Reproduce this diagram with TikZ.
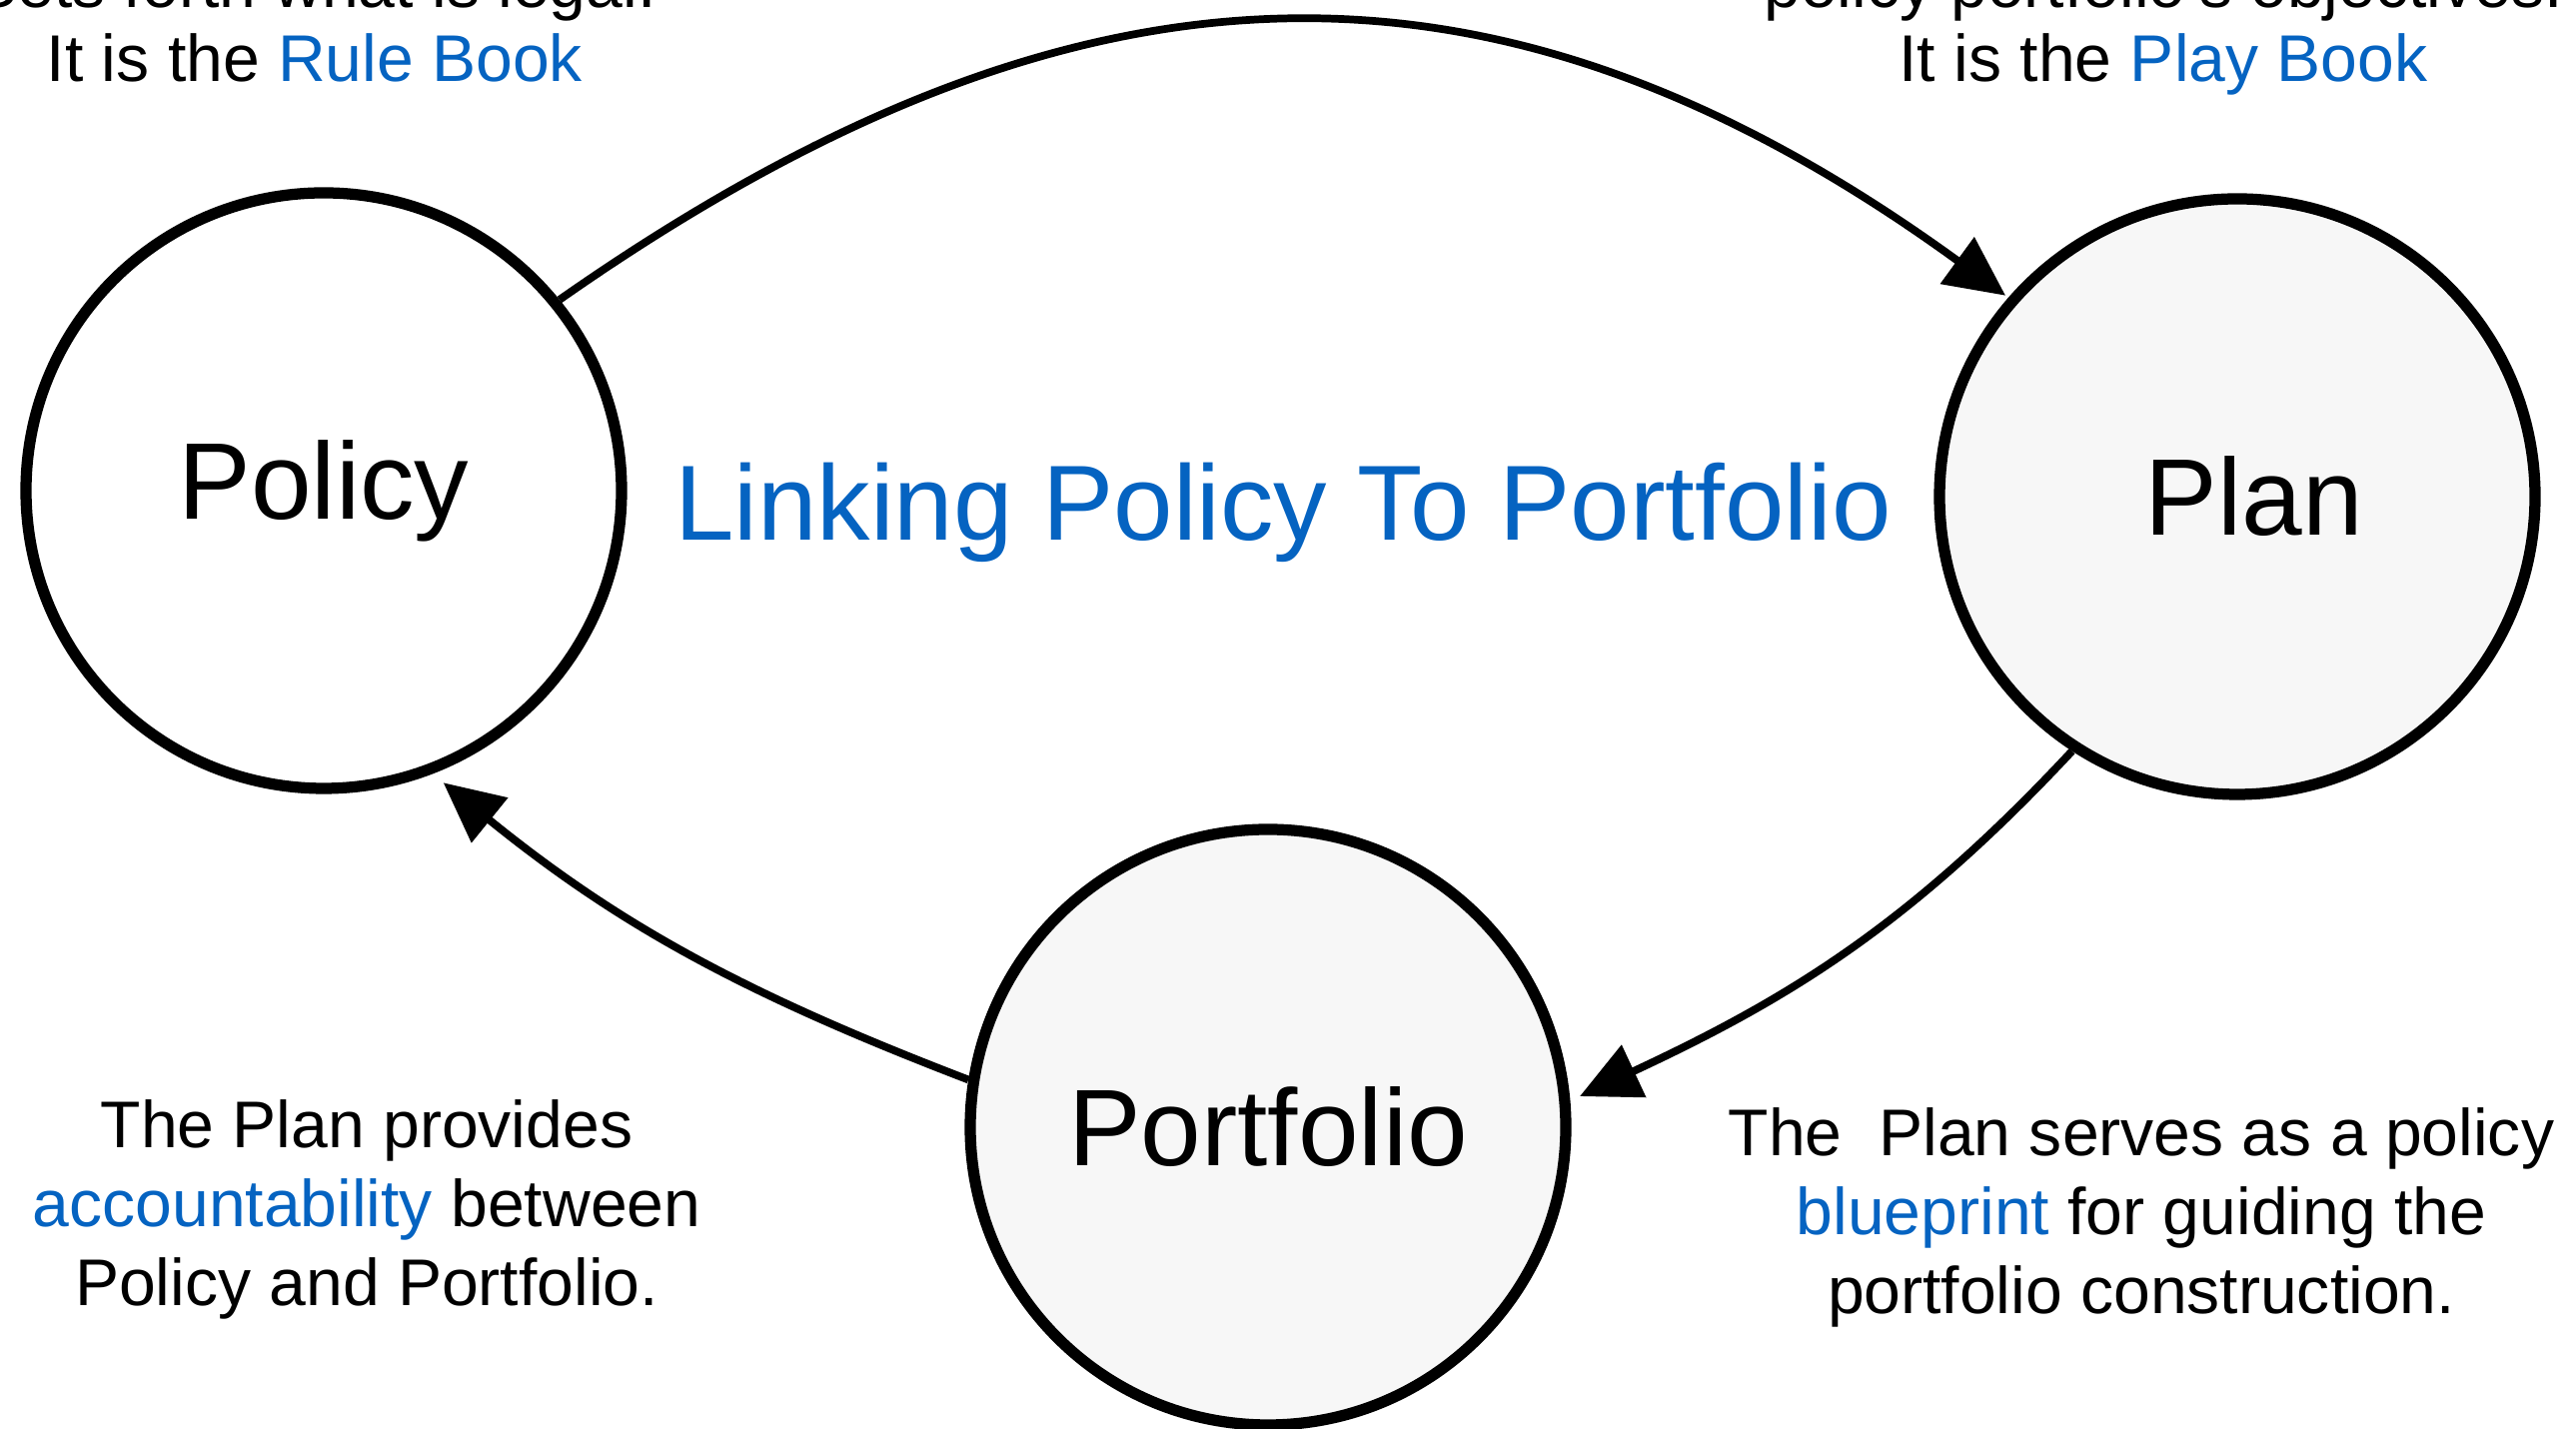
\documentclass[tikz,border=0pt]{standalone}
\usepackage{fontspec}
\setmainfont{Liberation Sans}
\usetikzlibrary{arrows.meta}

\definecolor{linkblue}{RGB}{5,99,193}
\definecolor{stagegray}{RGB}{247,247,247}

\begin{document}
\begin{tikzpicture}[
    stage/.style={circle, draw=black, line width=3.2pt, minimum size=5.96cm, inner sep=0pt,
      font=\fontsize{31pt}{37pt}\selectfont},
    note/.style={align=center, anchor=north, inner sep=0pt,
      font=\fontsize{18.8pt}{22.5pt}\selectfont},
    topnote/.style={note, font=\fontsize{18.8pt}{21pt}\selectfont},
    link/.style={line width=2.2pt, -{Triangle[length=17pt,width=16pt]}}
  ]

    \useasboundingbox (0,0) rectangle (25.78,14.30);
    \clip (0,0) rectangle (25.78,14.30);

    % the three stages
    \node[stage, fill=white] (policy) at (3.24, 9.39) {Policy};
    \node[stage, fill=stagegray] (plan) at (22.39, 9.33) {\hspace*{0.34cm}Plan};
    \node[stage, fill=stagegray] (portfolio) at (12.69, 3.02) {Portfolio};

    \node[anchor=base, text=linkblue, font=\fontsize{30.4pt}{36pt}\selectfont] (title) at (12.84, 8.89) {Linking Policy To Portfolio};

    % notes
    \node[topnote] (rulebook) at (3.15, 14.71) {Sets forth what is legal.\\It is the \textcolor{linkblue}{Rule Book}};
    \node[topnote] (playbook) at (21.65, 14.71) {policy portfolio's objectives.\\It is the \textcolor{linkblue}{Play Book}};
    \node[note] (accnote) at (3.67, 3.30) {The Plan provides\\\textcolor{linkblue}{accountability} between\\Policy and Portfolio.};
    \node[note] (blueprintnote) at (21.43, 3.22) {The\ \ Plan serves as a policy\\\textcolor{linkblue}{blueprint} for guiding the\\portfolio construction.};

    % \draw[link] (policy) -- (plan);
    \draw[link, shorten >=1pt] (policy.39) to[out=35, in=144, looseness=1.12] (plan.139);
    \draw[link, shorten >=3pt] (plan.237) to[out=227, in=25] (portfolio.5);
    \draw[link, shorten >=4pt] (portfolio.171) to[out=159, in=-39] (policy.291);

  \end{tikzpicture}
\end{document}
